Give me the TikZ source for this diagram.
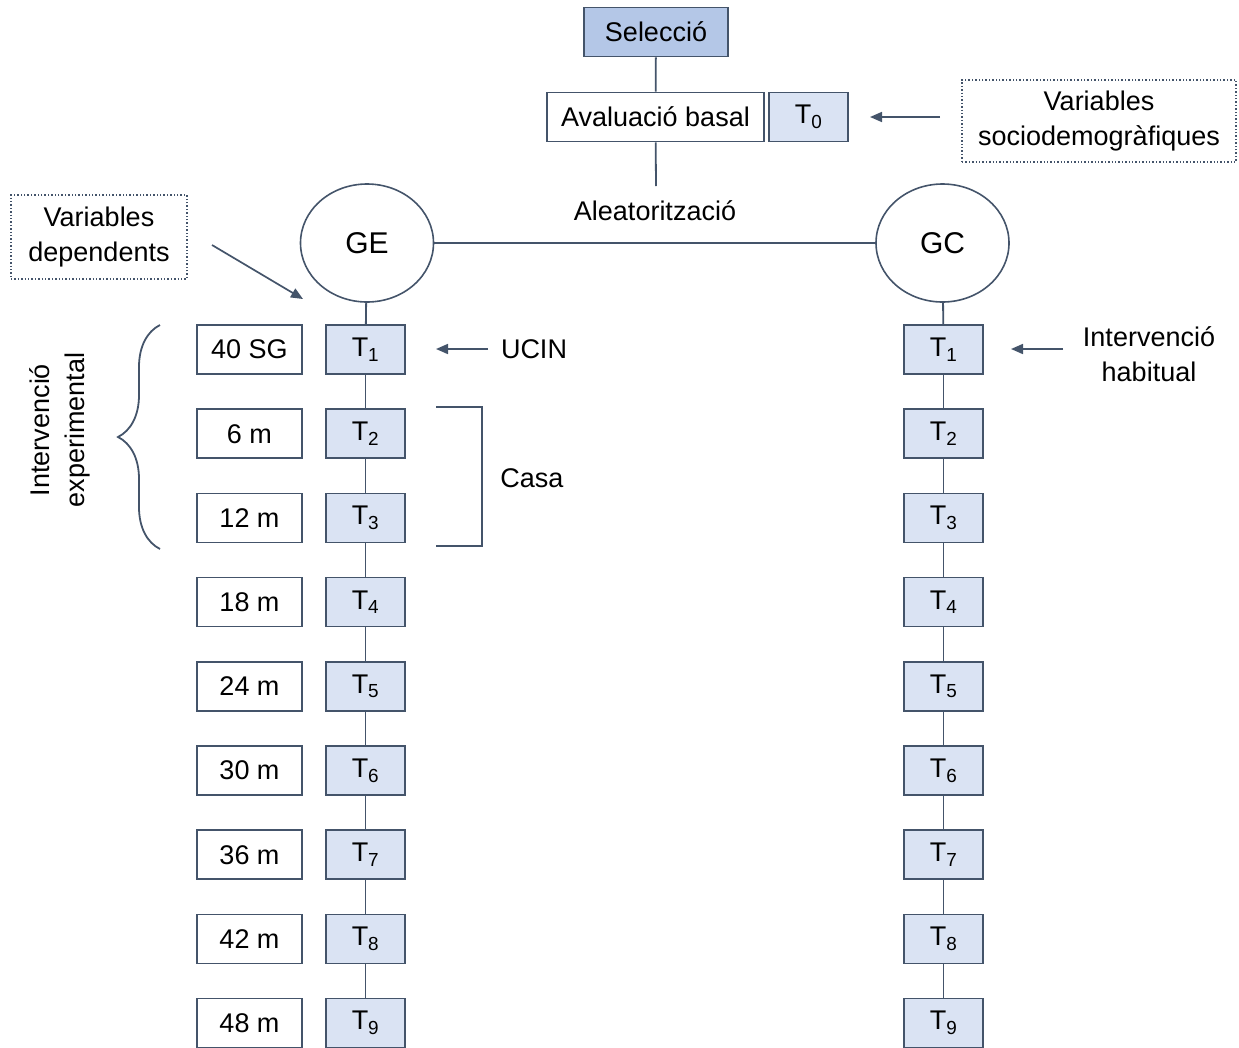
\documentclass[tikz,border=0pt]{standalone}
\usepackage{fontspec}
\setmainfont{Liberation Sans}
\usetikzlibrary{arrows.meta,shapes.geometric,decorations.pathreplacing}
\definecolor{vora}{HTML}{44546A}
\definecolor{blau}{HTML}{DAE3F3}
\definecolor{blaufosc}{HTML}{B4C7E7}
\tikzset{
  caixa/.style={draw=vora,line width=1.6pt,fill=white,minimum height=49pt,inner sep=0pt},
  temps/.style={caixa,fill=blau,minimum width=79pt},
  mes/.style={caixa,minimum width=105pt},
  grup/.style={ellipse,draw=vora,line width=1.6pt,minimum width=133pt,minimum height=118pt,
    font=\fontsize{30}{34}\selectfont},
  punts/.style={draw=vora,dotted,line width=1.4pt,align=center,inner sep=0pt},
  fletxa/.style={-{Triangle[length=12pt,width=10pt]},draw=vora,line width=1.7pt},
  linia/.style={draw=vora,line width=1.8pt},
}

\begin{document}
\begin{tikzpicture}[x=1pt,y=-1pt,font=\fontsize{27}{35}\selectfont]
  \useasboundingbox (0,0) rectangle (1239,1047);
  % capçalera
  \node[caixa,fill=blaufosc,minimum width=144pt] (sel) at (656,32) {Selecció};
  \node[caixa,minimum width=217pt] (bas) at (655.5,117) {Avaluació basal};
  \node[temps] (t0) at (808.5,117) {T\textsubscript{0}};
  \node[punts,minimum width=274pt,minimum height=82pt] (soc) at (1099,121)
    {Variables\\sociodemogràfiques};
  \coordinate (ale) at (656,186);
  \node (aletxt) at (655,211) {Aleatorització};
  \draw[linia] (sel) -- (bas);
  \draw[linia] (bas) -- (ale);
  \coordinate (soca) at (940,117);
  \coordinate (socb) at (870,117);
  \draw[fletxa] (soca) -- (socb);
  % grups
  \node[grup] (ge) at (367,243) {GE};
  \node[grup] (gc) at (942.5,243) {GC};
  \draw[linia] (ge) -- (gc);
  \node[punts,minimum width=176pt,minimum height=84pt] (dep) at (99,237)
    {Variables\\dependents};
  \coordinate (depa) at (212,245);
  \coordinate (depb) at (303,299);
  \draw[fletxa] (depa) -- (depb);
  % columnes de temps
  \foreach \i/\lab in {1/40 SG,2/6 m,3/12 m,4/18 m,5/24 m,6/30 m,7/36 m,8/42 m,9/48 m} {
    \node[mes] (m\i) at (249.5,{349.5+(\i-1)*84.2}) {\lab};
    \node[temps] (e\i) at (365.5,{349.5+(\i-1)*84.2}) {T\textsubscript{\i}};
    \node[temps] (c\i) at (943.5,{349.5+(\i-1)*84.2}) {T\textsubscript{\i}};
  }
  \draw[linia] (ge) -- (e1);
  \draw[linia] (gc) -- (c1);
  \foreach \i [count=\j from 2] in {1,...,8} {
    \draw[linia] (e\i) -- (e\j);
    \draw[linia] (c\i) -- (c\j);
  }
  % etiquetes
  \node (ucin) at (534,349) {UCIN};
  \coordinate (ucina) at (488,349);
  \coordinate (ucinb) at (436,349);
  \draw[fletxa] (ucina) -- (ucinb);
  \node[align=center] (hab) at (1149,354) {Intervenció\\habitual};
  \coordinate (haba) at (1063,349);
  \coordinate (habb) at (1011,349);
  \draw[fletxa] (haba) -- (habb);
  \coordinate (casa1) at (436,407);
  \coordinate (casa2) at (436,546);
  \draw[linia] (casa1) -| (482,476.5) |- (casa2);
  \node (casa) at (532,478) {Casa};
  \coordinate (cl1) at (160,549);
  \coordinate (cl2) at (160,325);
  \draw[linia,decorate,decoration={brace,amplitude=42pt}] (cl1) -- (cl2);
  \node[rotate=90,align=center] (exp) at (60,430) {Intervenció\\experimental};
\end{tikzpicture}
\end{document}
